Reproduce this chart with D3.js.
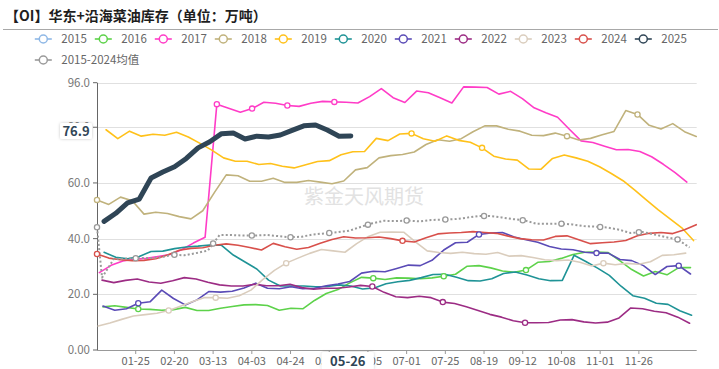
<!DOCTYPE html>
<html><head><meta charset="utf-8">
<script src="https://cdn.jsdelivr.net/npm/d3@7/dist/d3.min.js"></script>
<style>
body{margin:0;background:#fff}
svg{display:block}
text{font-family:"Noto Sans CJK SC","Noto Sans",sans-serif}
</style>
</head><body>
<svg id="chart" width="719" height="369"></svg>
<script>
// ---------------- data ----------------
const title = "【OI】华东+沿海菜油库存（单位：万吨）";
const watermark = "紫金天风期货";
const yearNames = ["2015","2016","2017","2018","2019","2020","2021","2022","2023","2024","2025"];
const meanName = "2015-2024均值";
// category labels shown on the x axis (index = label slot)
const xTickLabels = ["","01-25","02-20","03-13","04-03","04-24","05-15","06-05","07-01","07-25","08-19","09-12","10-08","11-01","11-26"];
const yTickValues = [0, 20, 40, 60, 80, 96];
const pointerDate = "05-26";
const weeksPerLabel = 3.294;   // weeks between labelled categories

// weekly values (万吨); startN = week of first observation
const start2015 = 0,    v2015 = [];
const start2016 = 0.51, v2016 = [15.5,15.9,15.3,14.7,14.6,14.3,14.5,15.3,14.2,14.2,15.0,15.6,16.2,16.3,16.0,14.3,15.0,14.8,17.8,20.3,21.7,24.1,26.1,25.8,25.3,25.9,25.8,25.6,25.9,26.5,27.2,30.1,30.3,29.5,28.4,27.9,28.7,31.5,31.8,32.9,34.3,35.1,35.2,35.0,32.0,28.9,26.6,28.2,27.0,29.6,29.6];
const start2017 = 0.2,  v2017 = [27.8,30.4,32.0,32.6,32.9,33.6,34.3,36.0,38.4,40.5,88.3,86.8,85.4,86.7,89.0,88.6,87.8,87.5,88.6,89.3,89.1,89.0,88.7,91.0,93.9,90.6,88.9,93.0,92.4,90.6,88.7,94.5,94.4,94.3,91.9,92.9,90.3,87.0,85.2,83.6,79.3,75.1,74.5,73.2,71.9,72.0,71.3,69.4,66.7,63.7,60.3];
const start2018 = 0,    v2018 = [53.9,52.3,54.9,53.6,48.8,49.5,49.0,47.9,47.1,50.0,56.6,62.9,62.6,60.6,60.6,61.7,60.2,60.2,60.9,60.3,59.7,60.7,64.7,65.5,69.0,69.8,70.2,71.1,73.8,75.5,75.0,75.9,78.4,80.5,80.5,79.3,78.6,77.1,77.0,77.9,76.8,75.4,76.0,77.3,78.5,86.0,84.6,80.7,79.4,81.3,78.4,76.7];
const start2019 = 0.77, v2019 = [79.1,75.9,78.6,76.8,77.5,77.1,78.2,76.5,74.2,71.8,69.0,67.8,67.8,66.6,67.0,66.0,65.4,66.5,67.7,68.0,70.1,71.2,71.3,76.0,75.2,77.6,77.8,75.9,75.0,76.9,75.3,74.6,72.6,69.6,68.6,68.2,65.0,64.9,68.8,70.0,69.0,67.8,65.8,63.4,60.8,57.4,53.8,50.3,47.1,43.9,39.3];
const start2020 = 0.6,  v2020 = [35.1,33.3,32.8,33.6,35.4,35.5,36.4,37.0,37.3,37.7,37.6,34.1,31.6,29.1,25.1,23.0,23.0,23.0,22.7,22.8,23.4,23.0,21.9,22.3,23.8,24.5,25.0,26.0,27.1,27.2,26.1,24.9,24.8,25.6,27.5,28.0,26.9,25.6,24.9,25.0,34.0,31.8,29.4,26.8,22.9,19.5,18.6,16.8,16.4,14.1,12.5];
const start2021 = 0.51, v2021 = [15.8,14.3,14.8,16.8,17.3,21.5,18.5,16.2,18.0,21.0,20.8,21.1,22.3,24.0,22.2,22.0,22.7,22.0,22.2,23.1,23.7,24.6,27.6,28.3,28.1,29.3,30.5,30.3,32.2,35.9,38.5,38.7,41.5,42.0,42.2,40.6,39.6,38.7,37.2,36.3,36.0,35.1,34.8,34.8,32.5,32.1,30.3,27.1,30.0,30.3,27.3];
const start2022 = 0.43, v2022 = [25.1,24.2,25.0,25.5,24.4,24.0,24.9,26.0,25.5,24.3,23.4,23.0,23.0,23.6,23.1,23.1,23.6,22.4,21.8,22.2,22.2,22.6,23.2,22.8,20.7,19.1,18.8,19.3,18.8,17.2,16.7,15.5,14.2,12.8,11.8,10.5,9.8,9.8,9.9,10.8,10.9,10.1,9.7,10.0,11.5,15.1,14.8,13.9,13.4,11.8,9.6];
const start2023 = 0.1,  v2023 = [8.6,9.7,11.0,12.2,12.7,13.2,14.2,15.7,17.3,18.8,18.8,18.6,19.5,21.5,25.3,28.6,31.2,33.0,34.7,36.1,35.6,35.1,38.2,40.8,42.3,42.4,42.3,38.8,35.6,35.0,34.7,35.1,34.6,34.4,35.0,33.7,33.9,33.2,32.4,32.1,32.3,31.5,30.2,31.2,30.6,31.1,30.8,31.7,34.0,34.2,34.8];
const start2024 = 0,    v2024 = [34.5,33.0,32.4,32.1,32.2,32.8,34.1,35.8,36.5,36.7,37.6,38.1,37.6,36.8,35.9,38.3,37.1,36.2,36.8,38.3,39.7,40.7,40.2,40.3,40.6,40.0,39.2,38.8,40.3,41.7,42.0,42.2,42.5,42.2,41.9,40.9,40.0,39.6,39.5,40.8,41.0,39.6,38.2,38.5,38.8,39.3,41.0,41.9,42.2,41.8,43.2,45.0];
const start2025 = 0.6,  v2025 = [46.2,49.1,52.8,54.2,61.8,63.9,65.8,68.8,72.6,74.8,77.7,77.9,75.8,76.8,76.5,77.2,78.9,80.5,80.8,79.0,76.8,76.9];
const meanFirst = 44.1;  // value on the first category
const startMean = 0.43, vMean = [26.0,32.7,32.8,33.0,33.0,33.3,34.2,34.0,34.8,35.7,41.3,41.3,41.1,41.1,41.3,40.9,40.5,40.7,41.5,41.9,42.3,42.8,44.2,45.5,46.4,46.3,46.5,46.2,46.7,46.8,47.0,47.5,48.1,48.1,47.6,47.0,46.5,45.3,45.3,45.4,45.1,44.5,44.3,44.0,43.2,42.0,42.4,41.5,40.5,39.7,36.8];

// label slots where each series shows a symbol
const markers2016 = [1,7,9,11], markers2017 = [3,4,5,6], markers2018 = [0,12,14], markers2019 = [8,10];
const markers2021 = [1,10,13,15], markers2022 = [7,9,11], markers2023 = [2,3,5,13], markers2024 = [0,8];
const markersMean = [0,1,2,3,4,5,6,7,8,9,10,11,12,13,14,15];

// ---------------- styles ----------------
const colors = {"2015":"#8fb8e6","2016":"#5dd24a","2017":"#ff3cc7","2018":"#c0b27c","2019":"#ffc11a",
  "2020":"#1f9396","2021":"#5a4bb6","2022":"#9c2c84","2023":"#dacdbd","2024":"#d8504b","2025":"#2f4556"};
const meanColor = "#9a9a9a";

const series = [
  {name:"2015", start:start2015, values:v2015, markers:[]},
  {name:"2016", start:start2016, values:v2016, markers:markers2016},
  {name:"2017", start:start2017, values:v2017, markers:markers2017},
  {name:"2018", start:start2018, values:v2018, markers:markers2018},
  {name:"2019", start:start2019, values:v2019, markers:markers2019},
  {name:"2020", start:start2020, values:v2020, markers:[]},
  {name:"2021", start:start2021, values:v2021, markers:markers2021},
  {name:"2022", start:start2022, values:v2022, markers:markers2022},
  {name:"2023", start:start2023, values:v2023, markers:markers2023},
  {name:"2024", start:start2024, values:v2024, markers:markers2024},
  {name:"2025", start:start2025, values:v2025, markers:[]}
];
series.forEach(s => { s.color = colors[s.name]; s.width = s.name === "2025" ? 5 : 1.6; s.snap = true;
  s.points = s.values.map((v,i) => [s.start + i, v]); });
const meanSeries = {name:meanName, color:meanColor, markers:markersMean, snap:false,
  points:[[0, meanFirst]].concat(vMean.map((v,i)=>[startMean + i, v]))};

// ---------------- chart ----------------
const svg = d3.select("#chart");
const defs = svg.append("defs");
const f = defs.append("filter").attr("id","sh").attr("x","-30%").attr("y","-40%").attr("width","160%").attr("height","180%");
f.append("feDropShadow").attr("dx",0).attr("dy",0).attr("stdDeviation",1.6).attr("flood-color","#000").attr("flood-opacity",0.22);

const x = d3.scaleLinear().domain([0, 51]).range([97, 696.25]);
const y = d3.scaleLinear().domain([0, 96]).range([350, 82.7]);
const [x0, x1] = [97, 696.7];

// title
svg.append("text").attr("x",5).attr("y",21).attr("font-size",14).attr("font-weight",700)
  .attr("fill","#1e1e1e").text(title);
svg.append("line").attr("x1",3).attr("x2",718).attr("y1",29.5).attr("y2",29.5).attr("stroke","#a8a8a8");

// legend
const legendItems = yearNames.map((n,i)=>({name:n, color:colors[n], row:0, col:i}))
  .concat([{name:meanName, color:meanColor, row:1, col:0}]);
const lg = svg.append("g").selectAll("g").data(legendItems).join("g")
  .attr("transform", d => `translate(${43.3 + d.col*60},${39 + d.row*21})`);
lg.append("line").attr("x1",-8.5).attr("x2",8.5).attr("stroke", d=>d.color).attr("stroke-width",1.6);
lg.append("circle").attr("r",4).attr("fill","#fff").attr("stroke", d=>d.color).attr("stroke-width",1.5);
lg.append("text").attr("x",18).attr("dy","0.35em").attr("font-size",11.5).attr("fill","#666").text(d=>d.name);

// grid
svg.append("g").selectAll("line").data(yTickValues.filter(v=>v>0)).join("line")
  .attr("x1",x0).attr("x2",x1).attr("y1",d=>Math.round(y(d))+0.5).attr("y2",d=>Math.round(y(d))+0.5)
  .attr("stroke","#e0e0e0");

// watermark
svg.append("text").attr("x",364).attr("y",204).attr("text-anchor","middle").attr("font-size",20)
  .attr("fill","#e2e2e2").text(watermark);

// y axis
const yFmt = v => v === 0 ? "0.00" : d3.format(".1f")(v);
svg.append("line").attr("x1",x0+0.5).attr("x2",x0+0.5).attr("y1",y(96)).attr("y2",y(0)).attr("stroke","#666");
const yt = svg.append("g").selectAll("g").data(yTickValues).join("g").attr("transform",d=>`translate(0,${y(d)})`);
yt.append("line").attr("x1",x0-4).attr("x2",x0).attr("stroke","#666");
yt.append("text").attr("x",90).attr("dy","0.35em").attr("text-anchor","end").attr("font-size",11.5)
  .attr("fill","#777").text(yFmt);

// x axis
svg.append("line").attr("x1",x0).attr("x2",x1).attr("y1",350.5).attr("y2",350.5).attr("stroke","#999");
const xt = svg.append("g").selectAll("g")
  .data(xTickLabels.map((l,i)=>({l,i})).filter(d=>d.l))
  .join("g").attr("transform",d=>`translate(${x(d.i*weeksPerLabel)},350)`);
xt.append("line").attr("y1",0).attr("y2",4).attr("stroke","#999");
xt.append("text").attr("y",11).attr("dy","0.35em").attr("text-anchor","middle").attr("font-size",11)
  .attr("fill","#666").text(d=>d.l);

// lines
const line = d3.line().x(d=>x(d[0])).y(d=>y(d[1]));
const interp = (pts, w) => {
  if (!pts.length || w < pts[0][0] - 1e-6 || w > pts[pts.length-1][0] + 1e-6) return null;
  for (let i=0;i<pts.length-1;i++){
    const [a,va]=pts[i],[b,vb]=pts[i+1];
    if (w>=a && w<=b) return va + (vb-va)*(w-a)/(b-a);
  }
  return pts[pts.length-1][1];
};
const nearest = (pts, w) => pts.reduce((best,p)=>Math.abs(p[0]-w) < Math.abs(best[0]-w) ? p : best, pts[0]);
const lines = svg.append("g").attr("fill","none").attr("stroke-linejoin","round").attr("stroke-linecap","round");
series.filter(s=>s.points.length).forEach(s=>{
  lines.append("path").datum(s.points).attr("d",line).attr("stroke",s.color).attr("stroke-width",s.width);
});
lines.append("path").datum(meanSeries.points).attr("d",line).attr("stroke",meanColor)
  .attr("stroke-width",2).attr("stroke-dasharray","2,2.2").attr("stroke-linecap","butt");

// symbols at labelled categories
const mk = svg.append("g");
series.concat([meanSeries]).forEach(s=>{
  s.markers.forEach(k=>{
    const w = k*weeksPerLabel;
    if (interp(s.points, w) == null) return;
    const p = s.snap ? nearest(s.points, w) : [w, interp(s.points, w)];
    mk.append("circle").attr("cx",x(p[0])).attr("cy",y(p[1])).attr("r",2.6)
      .attr("fill","#fff").attr("stroke",s.color).attr("stroke-width",1.3);
  });
});

// axis pointer labels
const last = series.find(s=>s.name==="2025");
const lastPt = last.points[last.points.length-1];
const yl = svg.append("g").attr("transform",`translate(76,${y(lastPt[1]) - 5})`);
yl.append("rect").attr("x",-16).attr("y",-8).attr("width",32).attr("height",16).attr("rx",2)
  .attr("fill","#fff").attr("filter","url(#sh)");
yl.append("text").attr("text-anchor","middle").attr("dy","0.36em").attr("font-size",13).attr("font-weight",700)
  .attr("fill",colors["2025"]).text(d3.format(".1f")(lastPt[1]));
const xl = svg.append("g").attr("transform",`translate(${x(lastPt[0]) - 3},361)`);
xl.append("rect").attr("x",-26).attr("y",-9).attr("width",52).attr("height",18).attr("rx",2)
  .attr("fill","#fff").attr("filter","url(#sh)");
xl.append("text").attr("text-anchor","middle").attr("dy","0.36em").attr("font-size",13).attr("font-weight",700)
  .attr("fill",colors["2025"]).text(pointerDate);
</script>
</body></html>
